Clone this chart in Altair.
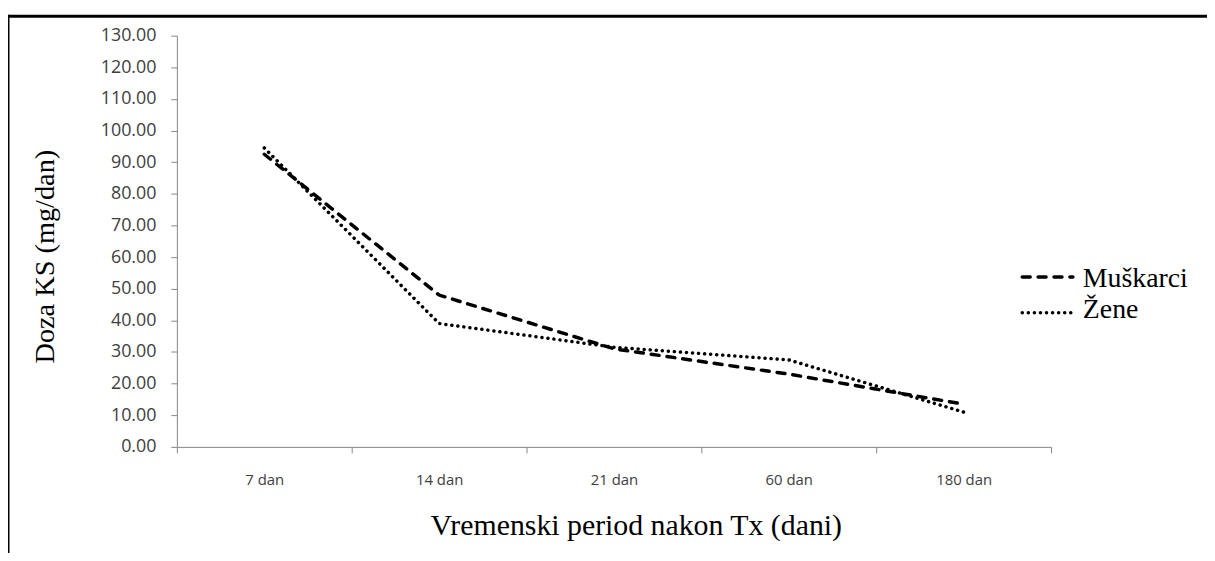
import altair as alt
import pandas as pd

periods = ["7 dan", "14 dan", "21 dan", "60 dan", "180 dan"]
muskarci = [92.5, 48.0, 31.0, 23.0, 13.5]
zene = [94.5, 39.0, 31.5, 27.5, 11.0]
series_names = ["Muškarci", "Žene"]
dash_styles = [[8, 8], [0.1, 6]]
y_ticks = list(range(0, 131, 10))

rows = []
for p, m, z in zip(periods, muskarci, zene):
    rows.append({"period": p, "dose": m, "group": series_names[0]})
    rows.append({"period": p, "dose": z, "group": series_names[1]})
df = pd.DataFrame(rows)
one = pd.DataFrame({"k": [0]})

W, H = 880, 414

lines = alt.Chart(df).mark_line(strokeWidth=3.5, strokeCap="round", color="black").encode(
    x=alt.X("period:N", sort=periods,
            scale=alt.Scale(type="band", paddingInner=0, paddingOuter=0),
            axis=alt.Axis(title="Vremenski period nakon Tx (dani)", labelAngle=0,
                          tickBand="extent", tickSize=6, labelPadding=20,
                          labelBaseline="top", titleFontSize=30,
                          titleX=462, titleY=79, titleBaseline="middle",
                          titleAlign="center")),
    y=alt.Y("dose:Q", scale=alt.Scale(domain=[0, 130], nice=False),
            axis=alt.Axis(title="Doza KS (mg/dan)", values=y_ticks, format=".2f",
                          tickSize=6, labelPadding=15, grid=False,
                          titleFontSize=28.5,
                          titleX=-133, titleY=222, titleAngle=270,
                          titleAlign="center", titleBaseline="middle")),
    strokeDash=alt.StrokeDash("group:N", sort=series_names,
                              scale=alt.Scale(domain=series_names, range=dash_styles),
                              legend=None),
)

# manual legend (symbol + label for each series)
legend_layers = []
legend_rows_y = [(243, 245), (279, 276)]  # (symbol y, label y)
for name, dash, (sy, ty) in zip(series_names, dash_styles, legend_rows_y):
    legend_layers.append(
        alt.Chart(one).mark_rule(color="black", strokeWidth=3.5, strokeCap="round",
                                 strokeDash=dash).encode(
            x=alt.value(851), x2=alt.value(902), y=alt.value(sy)))
    legend_layers.append(
        alt.Chart(one).mark_text(align="left", baseline="middle", font="Liberation Serif",
                                 fontSize=28, color="black").encode(
            x=alt.value(912), y=alt.value(ty), text=alt.value(name)))

frame_top = alt.Chart(one).mark_rule(color="black", strokeWidth=3).encode(
    x=alt.value(-170), x2=alt.value(W + 160), y=alt.value(-19.5))
frame_left = alt.Chart(one).mark_rule(color="black", strokeWidth=3).encode(
    x=alt.value(-170), y=alt.value(-21), y2=alt.value(H + 120))

chart = alt.layer(lines, *legend_layers, frame_top, frame_left).properties(
    width=W, height=H,
    padding={"left": 170, "top": 26, "right": 157, "bottom": 105},
    autosize=alt.AutoSizeParams(type="none"),
).configure_view(stroke=None).configure_axis(
    domainColor="#868686", tickColor="#868686",
    labelFont="Open Sans", labelColor="#404040",
    titleFont="Liberation Serif", titleFontWeight="normal",
    titleColor="black",
).configure_axisY(labelFontSize=18).configure_axisX(labelFontSize=15)

chart.save("out.html", embed_options={"renderer": "svg", "actions": False})
